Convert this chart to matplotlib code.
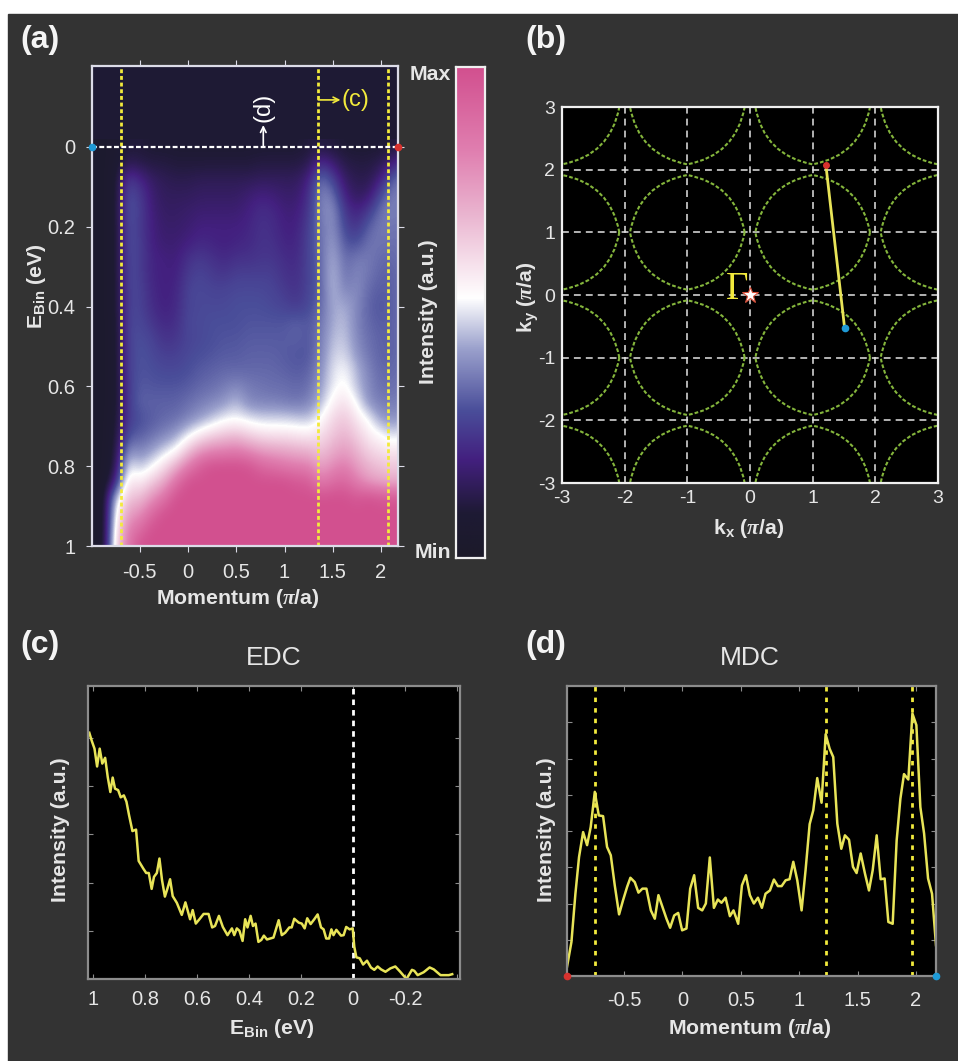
import numpy as np
import matplotlib
matplotlib.use('Agg')
import matplotlib.pyplot as plt
from matplotlib.colors import LinearSegmentedColormap
from matplotlib.patches import PathPatch, Rectangle
from matplotlib.path import Path

W, H = 958, 1061

# panel (a) intensity map, 0 = min, 100 = max
map_momentum = [-1.0, -0.875, -0.75, -0.625, -0.5, -0.375, -0.25, -0.125, 0, 0.125, 0.25, 0.375, 0.5, 0.625,
                0.75, 0.875, 1.0, 1.125, 1.25, 1.375, 1.5, 1.625, 1.75, 1.875, 2.0, 2.125, 2.25]
map_energy = [0, 0.04, 0.08, 0.12, 0.16, 0.2, 0.24, 0.28, 0.32, 0.36, 0.4, 0.44, 0.48, 0.52, 0.56, 0.6, 0.64,
              0.68, 0.72, 0.76, 0.8, 0.84, 0.88, 0.92, 0.96, 1.0]
map_values = [
    [4, 4, 6, 10, 10, 9, 9, 9, 9, 9, 9, 9, 9, 9, 9, 9, 9, 9, 10, 11, 10, 9, 9, 9, 9, 10, 11],
    [4, 4, 7, 14, 12, 11, 11, 10, 10, 10, 10, 10, 10, 10, 11, 11, 11, 11, 13, 24, 18, 12, 11, 11, 13, 20, 26],
    [4, 4, 8, 26, 22, 16, 14, 13, 13, 14, 14, 14, 14, 14, 15, 15, 15, 15, 20, 36, 28, 16, 13, 13, 20, 34, 35],
    [4, 4, 8, 30, 26, 18, 15, 15, 15, 16, 16, 16, 16, 18, 20, 19, 17, 17, 23, 39, 36, 20, 15, 17, 30, 38, 36],
    [4, 4, 8, 31, 27, 19, 16, 16, 17, 18, 18, 18, 18, 20, 23, 22, 19, 19, 25, 38, 41, 25, 20, 26, 36, 38, 36],
    [4, 4, 8, 30, 26, 20, 17, 17, 18, 20, 20, 20, 20, 21, 24, 23, 20, 20, 27, 36, 41, 28, 24, 33, 37, 36, 36],
    [4, 4, 8, 30, 27, 20, 18, 18, 20, 22, 21, 20, 21, 22, 24, 24, 21, 21, 28, 35, 43, 31, 30, 36, 36, 35, 36],
    [4, 4, 8, 29, 27, 21, 20, 19, 24, 26, 24, 22, 24, 24, 25, 25, 23, 22, 28, 34, 45, 34, 37, 37, 34, 34, 36],
    [4, 4, 8, 29, 27, 21, 20, 20, 26, 28, 26, 25, 27, 27, 27, 27, 24, 23, 28, 33, 47, 35, 39, 36, 33, 33, 36],
    [4, 4, 8, 28, 28, 22, 20, 21, 28, 29, 28, 28, 29, 29, 29, 28, 26, 24, 28, 33, 46, 38, 40, 34, 32, 33, 36],
    [4, 4, 8, 28, 28, 23, 20, 22, 28, 29, 29, 29, 30, 30, 30, 29, 28, 26, 29, 34, 44, 44, 39, 33, 31, 33, 36],
    [4, 4, 7, 28, 29, 25, 22, 23, 29, 29, 30, 30, 30, 31, 31, 31, 31, 33, 31, 36, 44, 46, 38, 34, 32, 33, 36],
    [4, 4, 7, 28, 30, 28, 24, 25, 28, 29, 30, 31, 31, 32, 32, 32, 32, 33, 31, 37, 46, 47, 39, 35, 33, 33, 36],
    [4, 4, 7, 27, 31, 29, 27, 27, 29, 30, 31, 32, 32, 33, 33, 33, 32, 31, 31, 38, 48, 49, 41, 36, 33, 33, 36],
    [4, 4, 7, 27, 31, 30, 29, 29, 30, 32, 33, 34, 34, 34, 34, 34, 33, 32, 33, 40, 50, 53, 45, 38, 34, 34, 36],
    [4, 4, 7, 26, 32, 31, 31, 31, 32, 34, 35, 37, 39, 37, 36, 35, 35, 34, 35, 42, 51, 55, 46, 39, 35, 35, 37],
    [4, 4, 7, 26, 33, 33, 33, 33, 35, 37, 39, 41, 46, 39, 38, 38, 37, 36, 38, 45, 56, 60, 52, 40, 37, 37, 38],
    [4, 4, 8, 26, 30, 32, 34, 35, 38, 42, 46, 51, 52, 50, 48, 48, 48, 47, 46, 53, 62, 66, 58, 52, 41, 40, 42],
    [4, 4, 9, 30, 32, 35, 38, 42, 50, 57, 62, 65, 67, 63, 60, 59, 59, 58, 57, 60, 66, 70, 64, 57, 53, 48, 52],
    [4, 4, 10, 40, 38, 42, 48, 53, 66, 76, 81, 82, 84, 80, 76, 74, 73, 71, 70, 66, 72, 76, 70, 63, 60, 58, 60],
    [4, 4, 12, 52, 46, 52, 60, 71, 84, 95, 100, 100, 100, 99, 92, 89, 86, 84, 83, 74, 80, 84, 76, 70, 67, 65, 67],
    [4, 4, 20, 60, 57, 65, 73, 88, 100, 100, 100, 100, 100, 100, 100, 100, 100, 97, 96, 84, 90, 92, 84, 77, 74, 72, 74],
    [4, 4, 48, 67, 68, 78, 87, 100, 100, 100, 100, 100, 100, 100, 100, 100, 100, 100, 100, 100, 100, 100, 97, 100, 97, 97, 98],
    [4, 4, 54, 75, 79, 91, 100, 100, 100, 100, 100, 100, 100, 100, 100, 100, 100, 100, 100, 100, 100, 100, 100, 100, 100, 100, 100],
    [4, 4, 58, 83, 90, 100, 100, 100, 100, 100, 100, 100, 100, 100, 100, 100, 100, 100, 100, 100, 100, 100, 100, 100, 100, 100, 100],
    [4, 4, 62, 85, 100, 100, 100, 100, 100, 100, 100, 100, 100, 100, 100, 100, 100, 100, 100, 100, 100, 100, 100, 100, 100, 100, 100],
]
map_cuts = [-0.694, 1.35, 2.07]

# panel (b)
pocket_x = [-3, -1, 1, 3]
pocket_y = [-3, -1, 1, 3]
pocket_tip = 0.915
pocket_corner = 0.77
cut_kx = [1.21, 1.51]
cut_ky = [2.08, -0.53]

# panel (c) EDC
edc_energy = [1.015, 1.006, 0.995, 0.985, 0.975, 0.965, 0.954, 0.944, 0.934, 0.925, 0.916, 0.904, 0.894, 0.882, 0.872,
              0.862, 0.849, 0.835, 0.825, 0.807, 0.796, 0.786, 0.775, 0.766, 0.755, 0.745, 0.735, 0.724, 0.714, 0.704,
              0.694, 0.678, 0.659, 0.645, 0.627, 0.617, 0.605, 0.591, 0.575, 0.556, 0.542, 0.531, 0.516, 0.501, 0.483,
              0.466, 0.457, 0.447, 0.437, 0.425, 0.415, 0.406, 0.394, 0.385, 0.375, 0.364, 0.353, 0.343, 0.331, 0.306,
              0.286, 0.274, 0.261, 0.245, 0.236, 0.226, 0.209, 0.197, 0.186, 0.176, 0.163, 0.149, 0.136, 0.123, 0.113,
              0.103, 0.092, 0.083, 0.075, 0.064, 0.046, 0.036, 0.026, 0.013, 0.001, -0.005, -0.013, -0.026, -0.039,
              -0.054, -0.069, -0.082, -0.095, -0.108, -0.125, -0.144, -0.163, -0.182, -0.206, -0.227, -0.236, -0.249,
              -0.272, -0.295, -0.311, -0.337, -0.369, -0.382]
edc_intensity = [5.11, 4.95, 4.78, 4.41, 4.78, 4.47, 4.59, 4.19, 3.88, 4.18, 3.95, 3.92, 3.77, 3.81, 3.68,
                 3.40, 3.07, 3.10, 2.45, 2.29, 2.20, 2.20, 1.87, 2.12, 2.20, 2.50, 2.05, 1.71, 1.88, 2.07,
                 1.72, 1.58, 1.33, 1.59, 1.24, 1.43, 1.15, 1.24, 1.35, 1.35, 1.07, 1.10, 1.31, 1.08, 0.91,
                 1.05, 0.91, 1.05, 1.00, 0.79, 1.24, 1.07, 1.31, 1.10, 1.15, 0.77, 0.81, 0.90, 0.82, 0.86,
                 1.22, 0.91, 0.96, 1.07, 1.07, 1.25, 1.17, 1.15, 1.05, 1.26, 1.14, 1.24, 1.34, 1.07, 1.03,
                 0.84, 0.84, 1.03, 0.91, 1.02, 0.90, 0.91, 1.08, 1.03, 1.05, 0.67, 0.45, 0.43, 0.30,
                 0.38, 0.24, 0.19, 0.26, 0.20, 0.15, 0.22, 0.26, 0.15, 0.00, 0.19, 0.17, 0.08,
                 0.14, 0.24, 0.20, 0.08, 0.08, 0.10]

# panel (d) MDC
mdc_momentum = [-0.989, -0.951, -0.917, -0.886, -0.851, -0.817, -0.786, -0.751, -0.717, -0.680, -0.646, -0.614, -0.580,
                -0.543, -0.509, -0.474, -0.446, -0.409, -0.377, -0.343, -0.309, -0.271, -0.237, -0.206, -0.171, -0.137,
                -0.106, -0.071, -0.037, -0.003, 0.034, 0.066, 0.100, 0.134, 0.169, 0.200, 0.234, 0.269, 0.303, 0.334,
                0.369, 0.406, 0.437, 0.477, 0.509, 0.543, 0.577, 0.611, 0.646, 0.680, 0.711, 0.749, 0.783, 0.817, 0.849,
                0.883, 0.917, 0.949, 0.983, 1.020, 1.054, 1.089, 1.120, 1.154, 1.191, 1.226, 1.260, 1.291, 1.326, 1.360,
                1.391, 1.426, 1.460, 1.491, 1.526, 1.563, 1.597, 1.629, 1.663, 1.697, 1.731, 1.763, 1.800, 1.834, 1.866,
                1.897, 1.934, 1.969, 2.003, 2.037, 2.069, 2.103, 2.137, 2.171]
mdc_intensity = [0.25, 0.94, 2.27, 3.28, 3.97, 3.61, 4.11, 5.08, 4.43, 4.41, 3.56, 3.33, 2.50,
                 1.70, 2.09, 2.46, 2.71, 2.59, 2.30, 2.41, 2.41, 1.81, 1.58, 2.23, 1.90, 1.58,
                 1.33, 1.67, 1.74, 1.26, 1.31, 2.41, 2.78, 1.88, 1.81, 2.00, 3.27, 1.88, 2.11, 2.02,
                 2.16, 1.65, 1.81, 1.44, 2.50, 2.78, 2.23, 2.00, 2.16, 1.88, 2.27, 2.36, 2.66, 2.48, 2.48,
                 2.64, 2.67, 3.15, 2.64, 1.81, 2.92, 4.19, 4.57, 5.46, 4.78, 6.67, 6.27, 6.04, 4.20, 3.51,
                 3.88, 3.76, 3.01, 2.84, 3.38, 2.82, 2.36, 2.92, 3.88, 2.67, 2.69, 1.49, 1.44, 3.74, 4.89,
                 5.57, 5.42, 7.24, 6.92, 4.66, 3.93, 2.69, 2.27, 0.85]
mdc_cuts = [-0.751, 1.229, 1.969]

BG = '#333333'
TXT = '#e6e6e6'
YEL = '#f2ea3c'
LINE = '#e8e458'
GREEN = '#84b53c'
RED = '#d8322e'
BLUE = '#1f9ad6'

plt.rcParams['font.family'] = ['Liberation Sans', 'DejaVu Sans']
plt.rcParams['mathtext.fontset'] = 'custom'
plt.rcParams['mathtext.rm'] = 'Liberation Sans'
plt.rcParams['mathtext.bf'] = 'Liberation Sans:bold'
plt.rcParams['mathtext.it'] = 'Liberation Serif:italic:bold'

cmap = LinearSegmentedColormap.from_list('arpes', [
    (0.00, '#1c1a2a'), (0.09, '#1e1a34'), (0.20, '#43207f'), (0.30, '#4a4e9a'), (0.425, '#9aa0cc'),
    (0.53, '#ffffff'), (0.70, '#eab5d0'), (0.83, '#e07fb0'), (1.00, '#d2508f')])


def make_axes(left, top, right, bottom):
    return fig.add_axes([left / W, 1 - bottom / H, (right - left) / W, (bottom - top) / H])


def label(x, y, s, **kw):
    kw.setdefault('color', TXT)
    kw.setdefault('ha', 'center')
    kw.setdefault('va', 'center')
    fig.text(x / W, 1 - y / H, s, **kw)


def style(ax, edge, width, direction, length, ticksize=14.5, pad=5):
    for sp in ax.spines.values():
        sp.set_color(edge)
        sp.set_linewidth(width)
    ax.tick_params(which='both', direction=direction, length=length, width=0.8, color=edge,
                   labelcolor=TXT, labelsize=ticksize, top=True, right=True, pad=pad)


def pocket(cx, cy):
    # four bent sides meeting in slightly pointed tips
    t, c = pocket_tip, pocket_corner
    verts = [(cx + t, cy), (cx + c, cy + c), (cx, cy + t), (cx - c, cy + c), (cx - t, cy),
             (cx - c, cy - c), (cx, cy - t), (cx + c, cy - c), (cx + t, cy)]
    codes = [Path.MOVETO] + [Path.CURVE3] * 8
    return PathPatch(Path(verts, codes), fill=False, ec=GREEN, lw=1.5, ls=(0, (1.8, 1.0)))


fig = plt.figure(figsize=(W / 100, H / 100), dpi=100, facecolor='white')
fig.patches.append(Rectangle((8 / W, 0), 1, 1 - 14 / H, transform=fig.transFigure, color=BG, zorder=-5))

# (a)
ax = make_axes(92, 66, 398, 546)
ax.set_facecolor(cmap(0.09))
dx = map_momentum[1] - map_momentum[0]
dy = map_energy[1] - map_energy[0]
ax.imshow(map_values, cmap=cmap, vmin=0, vmax=100, aspect='auto', interpolation='bicubic',
          extent=[map_momentum[0] - dx / 2, map_momentum[-1] + dx / 2, map_energy[-1] + dy / 2, map_energy[0] - dy / 2])
for xc in map_cuts:
    ax.axvline(xc, color=YEL, ls=(0, (1.4, 1.0)), lw=2)
ax.axhline(0, color='white', ls=(0, (2.2, 1.1)), lw=1.6)
ax.plot([-0.995], [0], 'o', color=BLUE, ms=4.5, clip_on=False, zorder=5)
ax.plot([2.176], [0], 'o', color=RED, ms=4.5, clip_on=False, zorder=5)
ax.annotate('', xy=(0.78, -0.055), xytext=(0.78, 0), arrowprops=dict(arrowstyle='->', color='white', lw=1.2, shrinkA=0, shrinkB=0))
ax.text(0.78, -0.1, '(d)', color='white', rotation=90, ha='center', va='center', fontsize=17)
ax.annotate('', xy=(1.58, -0.118), xytext=(1.35, -0.118), arrowprops=dict(arrowstyle='->', color=YEL, lw=1.2, shrinkA=0, shrinkB=0))
ax.text(1.59, -0.118, '(c)', color=YEL, ha='left', va='center', fontsize=17)
ax.set_xlim(-0.995, 2.176)
ax.set_ylim(1.0, -0.203)
ax.set_xticks([-0.5, 0, 0.5, 1, 1.5, 2], ['-0.5', '0', '0.5', '1', '1.5', '2'])
ax.set_yticks([0, 0.2, 0.4, 0.6, 0.8, 1], ['0', '0.2', '0.4', '0.6', '0.8', '1'])
style(ax, '#dcdce8', 1.6, 'out', 4, pad=8)

# colour bar
cax = make_axes(456, 67, 485, 558)
cax.imshow(np.linspace(1, 0, 256)[:, None], cmap=cmap, aspect='auto', vmin=0, vmax=1)
cax.set_xticks([])
cax.set_yticks([])
for sp in cax.spines.values():
    sp.set_color('#f0f0f0')
    sp.set_linewidth(1.6)

# (b)
ax = make_axes(562, 107, 938, 483)
ax.set_facecolor('black')
for cx in pocket_x:
    for cy in pocket_y:
        ax.add_patch(pocket(cx, cy))
ax.grid(True, color='#e4e4e4', ls=(0, (4.5, 3.3)), lw=1.1)
ax.set_axisbelow(True)
ax.plot(cut_kx, cut_ky, color=LINE, lw=2, zorder=4)
ax.plot(cut_kx[0], cut_ky[0], 'o', color=RED, ms=4, zorder=5)
ax.plot(cut_kx[1], cut_ky[1], 'o', color=BLUE, ms=4.5, zorder=5)
ax.plot([0], [0], marker='*', color='white', mec='#d8503a', mew=0.8, ms=12, zorder=6)
ax.text(-0.21, 0.09, 'Γ', color=YEL, family='Liberation Serif', fontsize=28, ha='center', va='center', zorder=6)
ax.set_xlim(-3, 3)
ax.set_ylim(-3, 3)
ticks = [-3, -2, -1, 0, 1, 2, 3]
ax.set_xticks(ticks, [str(t) for t in ticks])
ax.set_yticks(ticks, [str(t) for t in ticks])
style(ax, '#f0f0f0', 1.6, 'in', 0, ticksize=14)

# (c)
ax = make_axes(88, 686, 460, 979)
ax.set_facecolor('black')
ax.axvline(0, color='white', ls=(0, (2, 1.8)), lw=2)
ax.plot(edc_energy, edc_intensity, color=LINE, lw=1.8)
ax.set_xlim(1.02, -0.412)
ax.set_ylim(0, 6.08)
ax.set_xticks([1, 0.8, 0.6, 0.4, 0.2, 0, -0.2, -0.4], ['1', '0.8', '0.6', '0.4', '0.2', '0', '-0.2', ''])
ax.set_yticks([1, 2, 3, 4, 5], [])
style(ax, '#8c8c8c', 1.6, 'in', 3.5, pad=8)

# (d)
ax = make_axes(567, 686, 936, 976)
ax.set_facecolor('black')
for xc in mdc_cuts:
    ax.axvline(xc, color=YEL, ls=(0, (1.6, 2.2)), lw=2)
ax.plot(mdc_momentum, mdc_intensity, color=LINE, lw=1.8)
ax.plot([-0.989], [0], 'o', color=RED, ms=4.5, clip_on=False, zorder=5)
ax.plot([2.171], [0], 'o', color=BLUE, ms=4.5, clip_on=False, zorder=5)
ax.set_xlim(-0.989, 2.171)
ax.set_ylim(0, 8)
ax.set_xticks([-0.5, 0, 0.5, 1, 1.5, 2], ['-0.5', '0', '0.5', '1', '1.5', '2'])
ax.set_yticks([1, 2, 3, 4, 5, 6, 7], [])
style(ax, '#8c8c8c', 1.6, 'in', 3.5, pad=11)

# panel letters
for x, y, s in [(20, 40, '(a)'), (525, 40, '(b)'), (20, 645, '(c)'), (525, 645, '(d)')]:
    label(x, y, s, ha='left', color='#f4f4f4', fontsize=23, fontweight='bold')

# axis labels
lab = dict(fontsize=15.3, fontweight='bold')
label(238, 598, r'Momentum ($\pi$/a)', **lab)
label(37, 286, r'$\mathbf{E_{Bin}}$ (eV)', rotation=90, **lab)
label(428, 312, 'Intensity (a.u.)', rotation=90, **lab)
label(430, 74, 'Max', **lab)
label(433, 552, 'Min', **lab)
label(749, 529, r'$\mathbf{k_x}$ ($\pi$/a)', **lab)
label(528, 297, r'$\mathbf{k_y}$ ($\pi$/a)', rotation=90, **lab)
label(272, 1029, r'$\mathbf{E_{Bin}}$ (eV)', **lab)
label(60, 830, 'Intensity (a.u.)', rotation=90, **lab)
label(750, 1029, r'Momentum ($\pi$/a)', **lab)
label(546, 830, 'Intensity (a.u.)', rotation=90, **lab)
label(274, 658, 'EDC', fontsize=19)
label(750, 658, 'MDC', fontsize=19)

fig.savefig('out.png', dpi=100, facecolor=fig.get_facecolor())
